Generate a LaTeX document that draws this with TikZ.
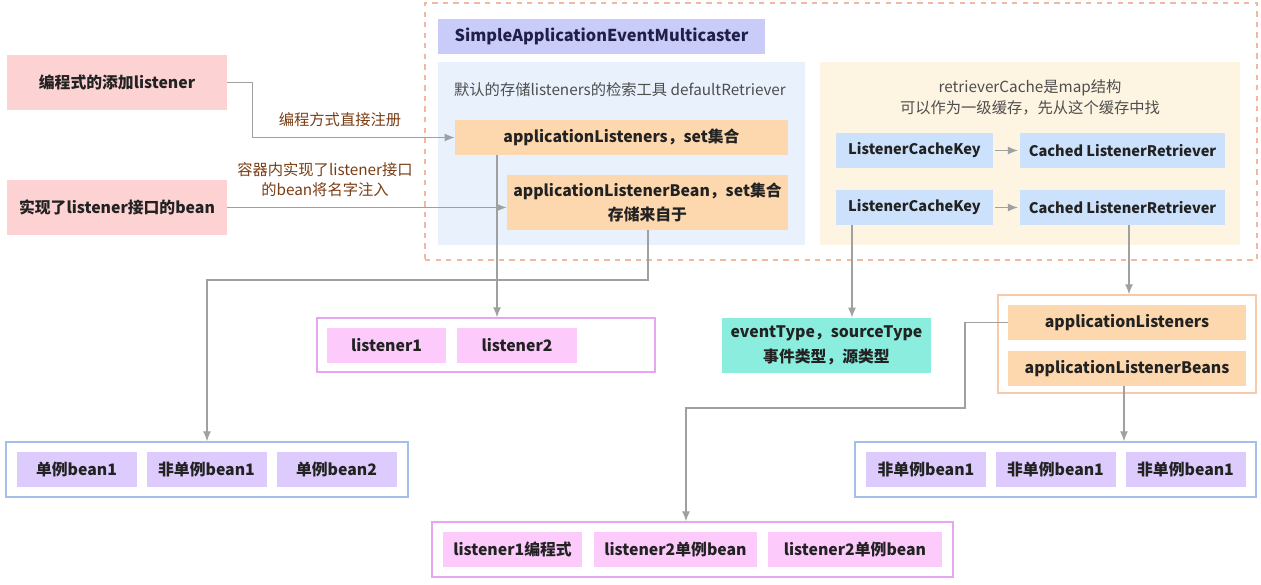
\documentclass[tikz,border=0pt]{standalone}
\usepackage{fontspec}
\setmainfont{Noto Sans CJK SC}
\usepackage{xcolor}
\usetikzlibrary{arrows.meta,positioning,calc}
\definecolor{srcpink}{HTML}{FCD2D2}
\definecolor{titlelav}{HTML}{C9CBF8}
\definecolor{panelblue}{HTML}{E8F1FC}
\definecolor{peach}{HTML}{FDD8AE}
\definecolor{panelcream}{HTML}{FDF4E1}
\definecolor{keyblue}{HTML}{CCE2FC}
\definecolor{lstpink}{HTML}{FCCBFC}
\definecolor{lstborder}{HTML}{E9A6F0}
\definecolor{beanlav}{HTML}{DCCBFC}
\definecolor{beanborder}{HTML}{A7BDEB}
\definecolor{mint}{HTML}{8AEDDD}
\definecolor{appborder}{HTML}{F7C9A8}
\definecolor{dashorange}{HTML}{F2B9A0}
\definecolor{textdark}{HTML}{222222}
\definecolor{titletext}{HTML}{1F1F4A}
\definecolor{labelbrown}{HTML}{7A3C12}
\definecolor{linegray}{HTML}{A0A0A0}

\begin{document}
\begin{tikzpicture}[
    >=Latex,
    basebox/.style={inner sep=2pt, align=center, text=textdark, minimum height=0.7cm, font=\fontsize{9pt}{14pt}\selectfont\bfseries},
    srcbox/.style={basebox, fill=srcpink, minimum width=4.4cm, minimum height=1.1cm},
    setbox/.style={basebox, fill=peach},
    keybox/.style={basebox, fill=keyblue, font=\fontsize{8.3pt}{14pt}\selectfont\bfseries},
    lstbox/.style={basebox, fill=lstpink},
    beanbox/.style={basebox, fill=beanlav, minimum width=2.4cm},
    groupbox/.style={line width=0.8pt, inner sep=0pt},
    panel/.style={inner sep=0pt},
    note/.style={align=center, text=textdark!80, font=\fontsize{8.7pt}{12pt}\selectfont},
    edgelabel/.style={align=center, text=labelbrown, font=\fontsize{8.7pt}{11.5pt}\selectfont},
    arrow/.style={-{Latex[length=2mm,width=1.6mm]}, line width=0.75pt, draw=linegray}
]
\useasboundingbox (0,0) rectangle (25.22,-11.68);
\node[groupbox, draw=dashorange, dashed, minimum width=16.64cm, minimum height=5.14cm] (multicaster) at (16.82,-2.63) {};
\node[basebox, fill=titlelav, text=titletext, minimum width=6.54cm, font=\fontsize{9.3pt}{14pt}\selectfont\bfseries] (title) at (12.03,-0.73) {SimpleApplicationEventMulticaster};
\node[panel, fill=panelblue, minimum width=7.34cm, minimum height=3.66cm] (defpanel) at (12.43,-3.07) {};
\node[panel, fill=panelcream, minimum width=8.4cm, minimum height=3.66cm] (cachepanel) at (20.6,-3.07) {};
\node[note] (defnote) at (12.4,-1.8) {默认的存储listeners的检索工具 defaultRetriever};
\node[note] (cachenote) at (20.6,-1.94) {retrieverCache是map结构\\可以作为一级缓存，先从这个缓存中找};
\node[setbox, minimum width=6.66cm] (applisteners) at (12.43,-2.75) {applicationListeners，set集合};
\node[setbox, minimum width=5.62cm, minimum height=1.1cm] (appbean) at (12.95,-4.05) {applicationListenerBean，set集合\\存储来自于};
\node[keybox, minimum width=3.14cm] (key1) at (18.29,-3.01) {ListenerCacheKey};
\node[keybox, minimum width=3.14cm] (key2) at (18.29,-4.15) {ListenerCacheKey};
\node[keybox, minimum width=4.1cm] (ret1) at (22.45,-3.01) {Cached ListenerRetriever};
\node[keybox, minimum width=4.1cm] (ret2) at (22.45,-4.15) {Cached ListenerRetriever};
\node[srcbox] (prog) at (2.34,-1.65) {编程式的添加listener};
\node[srcbox] (beanimpl) at (2.34,-4.15) {实现了listener接口的bean};
\node[groupbox, draw=lstborder, minimum width=6.76cm, minimum height=1.08cm] (lgroup) at (9.72,-6.9) {};
\node[lstbox, minimum width=2.38cm] (l1) at (7.73,-6.91) {listener1};
\node[lstbox, minimum width=2.4cm] (l2) at (10.34,-6.91) {listener2};
\node[groupbox, draw=beanborder, minimum width=8.04cm, minimum height=1.1cm] (beangroup) at (4.14,-9.39) {};
\node[beanbox] (b1) at (1.53,-9.39) {单例bean1};
\node[beanbox] (b2) at (4.13,-9.39) {非单例bean1};
\node[beanbox] (b3) at (6.73,-9.39) {单例bean2};
\node[basebox, fill=mint, minimum width=4.18cm, minimum height=1.1cm] (event) at (16.53,-6.91) {eventType，sourceType\\事件类型，源类型};
\node[groupbox, draw=appborder, minimum width=5.16cm, minimum height=1.96cm] (appgroup) at (22.54,-6.88) {};
\node[setbox, minimum width=4.76cm] (al) at (22.54,-6.45) {applicationListeners};
\node[setbox, minimum width=4.76cm] (alb) at (22.54,-7.37) {applicationListenerBeans};
\node[groupbox, draw=beanborder, minimum width=8.02cm, minimum height=1.1cm] (nsgroup) at (21.11,-9.39) {};
\node[beanbox] (n1) at (18.52,-9.39) {非单例bean1};
\node[beanbox] (n2) at (21.11,-9.39) {非单例bean1};
\node[beanbox] (n3) at (23.71,-9.39) {非单例bean1};
\node[groupbox, draw=lstborder, minimum width=10.42cm, minimum height=1.1cm] (lgroup2) at (13.85,-10.99) {};
\node[lstbox, minimum width=2.78cm] (m1) at (10.25,-10.99) {listener1编程式};
\node[lstbox, minimum width=3.26cm] (m2) at (13.51,-10.99) {listener2单例bean};
\node[lstbox, minimum width=3.48cm] (m3) at (17.1,-10.99) {listener2单例bean};
\node[edgelabel] (proglabel) at (6.8,-2.4) {编程方式直接注册};
\node[edgelabel] (beanlabel) at (6.5,-3.6) {容器内实现了listener接口\\的bean将名字注入};
\draw[arrow] (prog.east) -- ++(0.5,0) |- (applisteners.west);
\draw[arrow] (beanimpl.east) -- (beanimpl.east -| appbean.west);
\draw[arrow, shorten <=1pt, shorten >=1pt] (key1.east) -- (ret1.west);
\draw[arrow, shorten <=1pt, shorten >=1pt] (key2.east) -- (ret2.west);
\draw[arrow] (9.94,0 |- applisteners.south) -- (9.94,0 |- lgroup.north);
\draw[arrow] (12.96,0 |- appbean.south) |- (beangroup.north |- 0,-5.6) -- (beangroup.north);
\draw[arrow] (17.04,0 |- key2.south) -- (17.04,0 |- event.north);
\draw[arrow] (22.58,0 |- ret2.south) -- (22.58,0 |- appgroup.north);
\draw[arrow] (22.48,0 |- alb.south) -- (22.48,0 |- nsgroup.north);
\draw[arrow] (al.west) -- (19.3,0 |- al.west) -- (19.3,-8.16) -- (13.72,-8.16) -- (13.72,0 |- lgroup2.north);
\end{tikzpicture}
\end{document}
